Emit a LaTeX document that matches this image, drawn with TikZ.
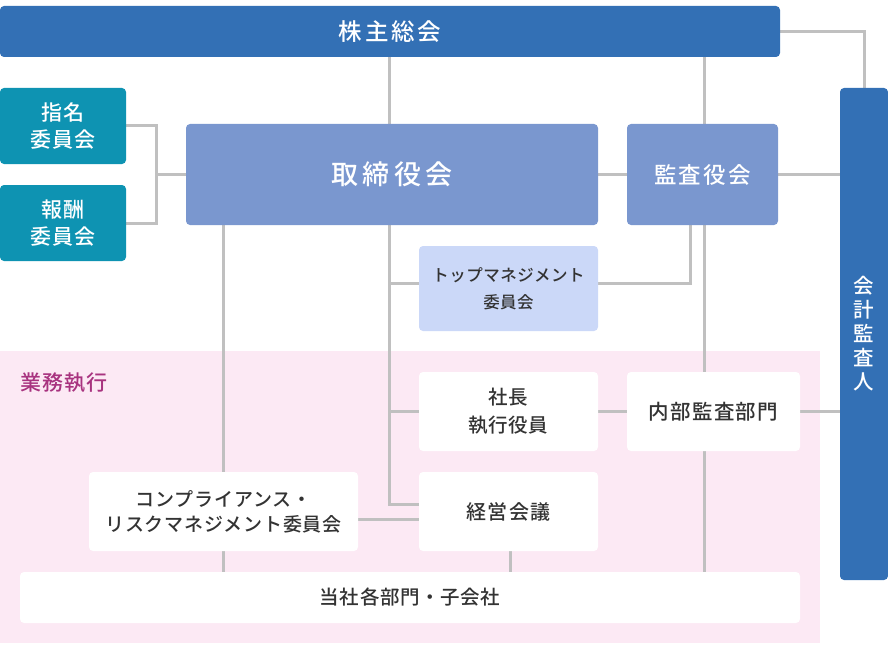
\documentclass[tikz,border=0pt]{standalone}
\usepackage{fontspec}
\setmainfont{Noto Sans CJK JP}[BoldFont={Noto Sans CJK JP Medium}]
\usetikzlibrary{backgrounds}

\definecolor{navy}{HTML}{3370B5}
\definecolor{teal}{HTML}{0E93B2}
\definecolor{board}{HTML}{7A97CF}
\definecolor{lavender}{HTML}{CBD8F8}
\definecolor{pinkbg}{HTML}{FCE9F4}
\definecolor{magenta}{HTML}{A8337F}
\definecolor{linegray}{HTML}{C0C0C0}
\definecolor{ink}{HTML}{333333}

\pgfdeclarelayer{pinklayer}
\pgfdeclarelayer{linelayer}
\pgfsetlayers{pinklayer,linelayer,main}

\newcommand{\fsize}[3]{\fontsize{#1}{#2}\selectfont\bfseries\addfontfeature{LetterSpace=#3}}

\begin{document}
\begin{tikzpicture}[x=1pt,y=-1pt]
\tikzset{box/.style = {rounded corners=4pt, inner sep=0pt, align=center, font=\fsize{19.5}{28}{3}},
  darkbox/.style = {box, fill=navy, text=white},
  tealbox/.style = {box, fill=teal, text=white, font=\fsize{21}{27}{5}},
  boardbox/.style = {box, fill=board, text=white, minimum height=101pt},
  whitebox/.style = {box, fill=white, text=ink, minimum height=79pt},
  link/.style = {draw=linegray, line width=3pt}}
\useasboundingbox (0,0) rectangle (888,650);

\begin{pgfonlayer}{pinklayer}
\node[fill=pinkbg, minimum width=820pt, minimum height=292pt, inner sep=0pt] (gyomu) at (410,497) {};
\end{pgfonlayer}
\node[text=magenta, font=\fsize{21}{24}{5}, anchor=west, inner sep=0pt] (gyomulabel) at (20,383) {業務執行};

\node[darkbox, minimum width=780pt, minimum height=51pt, font=\fsize{23.5}{26}{12}] (kabunushi) at (390,31.5) {株主総会};
\node[darkbox, minimum width=48pt, minimum height=492pt, font=\fsize{20.5}{24}{0}] (kaikei) at (864,334) {会\\計\\監\\査\\人};
\node[tealbox, minimum width=126pt, minimum height=76pt] (shimei) at (63,126) {指名\\委員会};
\node[tealbox, minimum width=126pt, minimum height=76pt] (hoshu) at (63,223) {報酬\\委員会};
\node[boardbox, minimum width=412pt, font=\fsize{27}{30}{15}] (torishimari) at (392,174.5) {取締役会};
\node[boardbox, minimum width=151pt, font=\fsize{22.5}{24}{10}] (kansa) at (702.5,174.5) {監査役会};
\node[box, fill=lavender, text=ink, minimum width=179pt, minimum height=85pt, font=\fsize{16.5}{27}{3}] (topmgmt) at (508.5,288.5) {トップマネジメント\\委員会};
\node[whitebox, minimum width=179pt] (shacho) at (508.5,411.5) {社長\\執行役員};
\node[whitebox, minimum width=173pt, font=\fsize{20.5}{24}{6}] (naibu) at (713.5,411.5) {内部監査部門};
\node[whitebox, minimum width=269pt, font=\fsize{19}{25}{4}] (compliance) at (223.5,511.5) {コンプライアンス・\\リスクマネジメント委員会};
\node[whitebox, minimum width=179pt, font=\fsize{20}{24}{6}] (keiei) at (508.5,511.5) {経営会議};
\node[box, fill=white, text=ink, minimum width=780pt, minimum height=51pt] (kakubu) at (410,597.5) {当社各部門・子会社};

\coordinate (spine) at ([xshift=-3pt]torishimari.south);
\coordinate (audit) at ([xshift=2pt]kansa.south);
\coordinate (auditleft) at ([xshift=-12pt]kansa.south);

% lines go behind the boxes
\begin{pgfonlayer}{linelayer}
\draw[link] (kabunushi.south -| spine) -- (spine);
\draw[link] (kabunushi.south -| audit) -- (audit);
\draw[link] (kabunushi.east) -| (kaikei.north);
\draw[link] (kansa.east) -- (kansa.east -| kaikei.west);
\draw[link] (torishimari.east) -- (kansa.west);
\draw[link] (shimei.east) -- ++(30,0) |- (hoshu.east);
\draw[link] (torishimari.west) -- ++(-30,0);
\draw[link] (spine) |- ([yshift=7pt]keiei.west);
\draw[link] ([yshift=5.5pt]topmgmt.west) -- ([yshift=5.5pt]topmgmt.west -| spine);
\draw[link] (shacho.west) -- (shacho.west -| spine);
\draw[link] (auditleft) |- ([yshift=5.5pt]topmgmt.east);
\draw[link] (audit) -- (naibu.north -| audit);
\draw[link] (naibu.south -| audit) -- (kakubu.north -| audit);
\draw[link] (shacho.east) -- (naibu.west);
\draw[link] (naibu.east) -- (naibu.east -| kaikei.west);
\draw[link] (torishimari.south -| compliance) -- (compliance.north);
\draw[link] (compliance.south) -- (kakubu.north -| compliance);
\draw[link] ([yshift=-8pt]compliance.east) -- ([yshift=-8pt]compliance.east -| keiei.west);
\draw[link] ([xshift=1.5pt]keiei.south) -- ([xshift=1.5pt]keiei.south |- kakubu.north);
\end{pgfonlayer}
\end{tikzpicture}
\end{document}
